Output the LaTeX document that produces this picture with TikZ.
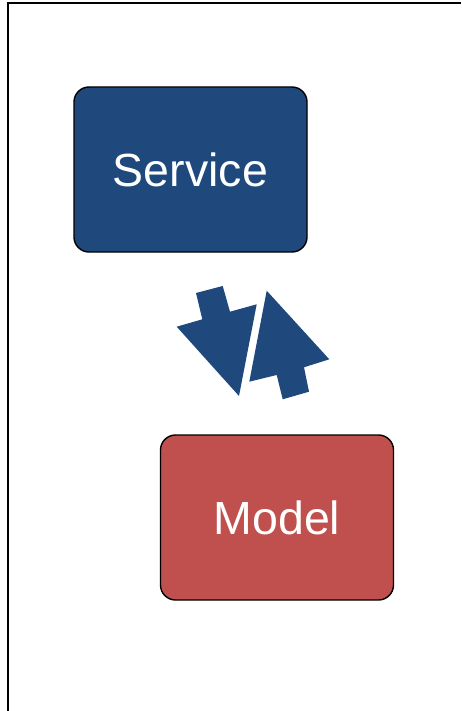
\documentclass[tikz,border=0pt]{standalone}
\usepackage{fontspec}
\setmainfont{Liberation Sans}
\definecolor{darkblue}{HTML}{1F497D}
\definecolor{softred}{HTML}{C0504D}
\begin{document}
\begin{tikzpicture}[x=1pt, y=-1pt, align=center]
\tikzstyle{box} = [rectangle, rounded corners=15pt, draw=black, line width=1.4pt, text=white, minimum width=233pt, minimum height=165pt, inner sep=0pt, font=\fontsize{46.5}{56}\selectfont]
\tikzstyle{arr} = [fill=darkblue, draw=none]
\tikzstyle{frame} = [draw=black, line width=2pt]

\useasboundingbox (0, 0) rectangle (461, 711);

\draw[frame] (8, 711) -- (8, 3) -- (461, 3);

\node[box, fill=darkblue] (S) at (190.5, 169.5) {Service};
\node[box, fill=softred] (M) at (277, 517.5) {Model};

\fill[arr] (196, 293) -- (222.7, 286) -- (230, 311.7) -- (256.7, 304.3) -- (239, 396) -- (176.7, 326.7) -- (202.3, 319.3) -- cycle;
\fill[arr] (266.7, 290.7) -- (329.3, 359.3) -- (304, 367.3) -- (309, 391.7) -- (282.7, 399.3) -- (276.7, 375) -- (249.3, 381.7) -- cycle;
\end{tikzpicture}
\end{document}
